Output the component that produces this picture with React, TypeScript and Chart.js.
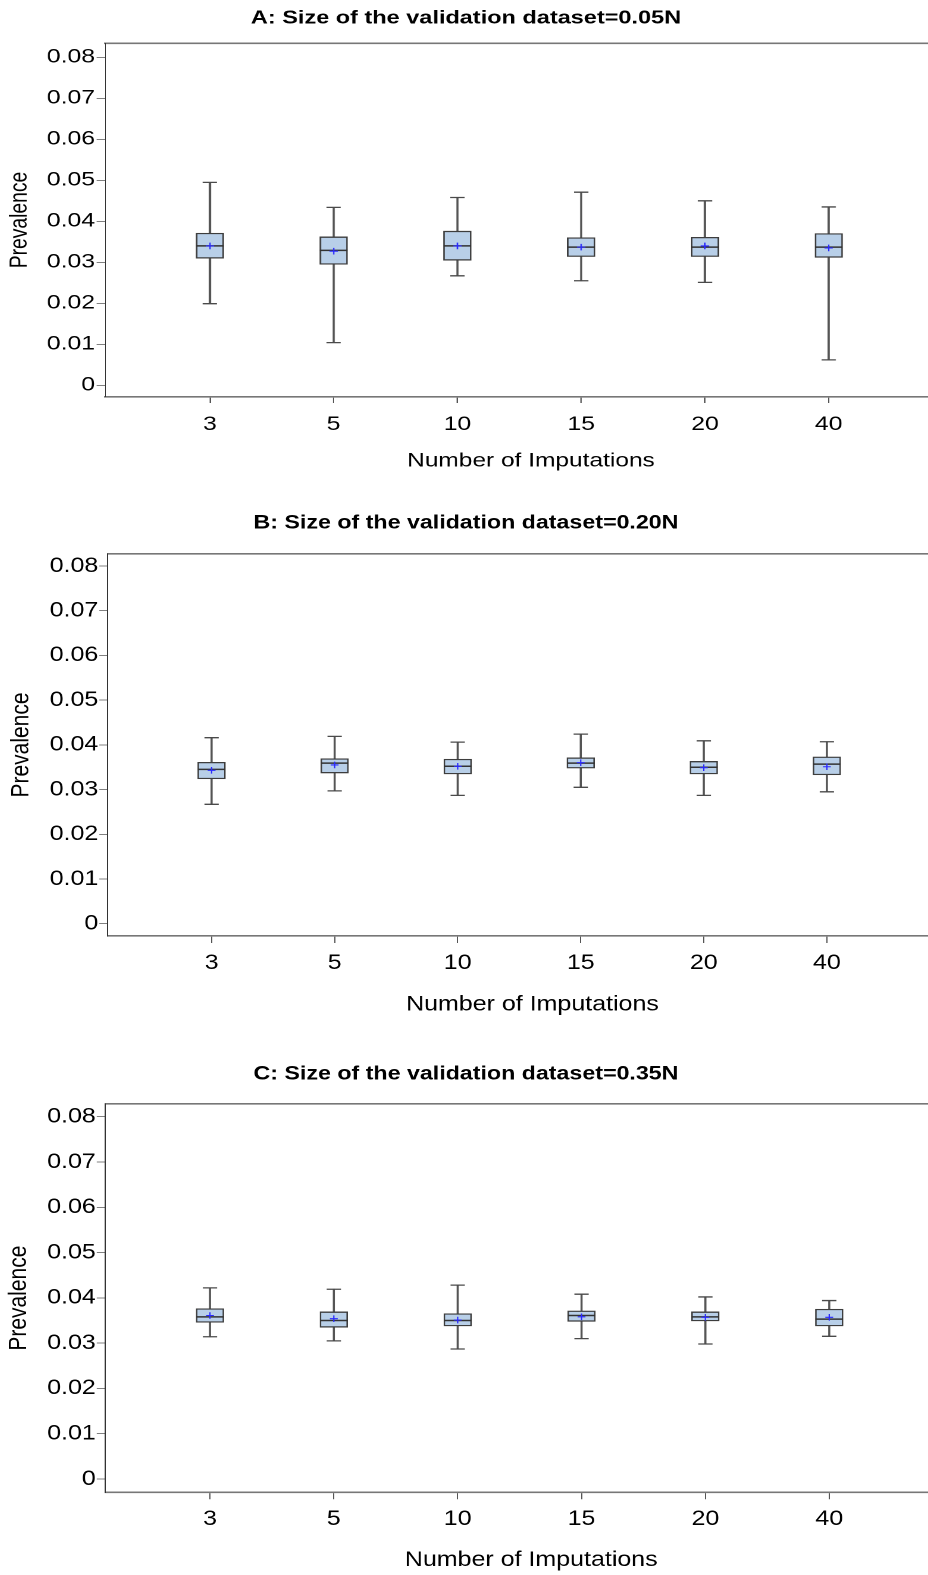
import React, { useEffect, useRef } from 'react';
import { Chart, registerables } from 'chart.js';

Chart.register(...registerables);

const FONT = "'Liberation Sans', Arial, Helvetica, sans-serif";

// ---------- data ----------
const categories = ['3', '5', '10', '15', '20', '40'];
const yTickValues = [0, 0.01, 0.02, 0.03, 0.04, 0.05, 0.06, 0.07, 0.08];
const xAxisTitle = 'Number of Imputations';
const yAxisTitle = 'Prevalence';

const titleA = 'A: Size of the validation dataset=0.05N';
const minA = [0.0199, 0.0104, 0.0267, 0.0255, 0.0251, 0.0062];
const q1A = [0.0310, 0.0295, 0.0305, 0.0314, 0.0314, 0.0312];
const medA = [0.0340, 0.0329, 0.0340, 0.0337, 0.0337, 0.0337];
const q3A = [0.0371, 0.0362, 0.0376, 0.0360, 0.0361, 0.0370];
const maxA = [0.0495, 0.0434, 0.0458, 0.0471, 0.0450, 0.0435];
const meanA = [0.0340, 0.0327, 0.0340, 0.0337, 0.0340, 0.0335];

const titleB = 'B: Size of the validation dataset=0.20N';
const minB = [0.0267, 0.0297, 0.0287, 0.0305, 0.0287, 0.0295];
const q1B = [0.0324, 0.0337, 0.0335, 0.0348, 0.0335, 0.0333];
const medB = [0.0345, 0.0359, 0.0352, 0.0359, 0.0350, 0.0357];
const q3B = [0.0361, 0.0369, 0.0368, 0.0371, 0.0363, 0.0373];
const maxB = [0.0416, 0.0419, 0.0406, 0.0424, 0.0409, 0.0407];
const meanB = [0.0343, 0.0355, 0.0352, 0.0360, 0.0349, 0.0351];

const titleC = 'C: Size of the validation dataset=0.35N';
const minC = [0.0314, 0.0305, 0.0287, 0.0310, 0.0298, 0.0315];
const q1C = [0.0346, 0.0335, 0.0338, 0.0348, 0.0349, 0.0338];
const medC = [0.0358, 0.0350, 0.0350, 0.0361, 0.0358, 0.0353];
const q3C = [0.0376, 0.0369, 0.0365, 0.0371, 0.0369, 0.0375];
const maxC = [0.0422, 0.0419, 0.0428, 0.0408, 0.0402, 0.0394];
const meanC = [0.0361, 0.0354, 0.0351, 0.0358, 0.0357, 0.0357];

// ---------- layout ----------
const OFFSET = 40; // canvas starts 40px left of the page (real px)
const BOX_LEFT = -31; // page x where the title/axis boxes begin (real px)
const CANVAS_REAL_W = 1012;
const AREA_RIGHT = 963; // real px, beyond the visible page

type Layout = {
  s: number; top: number; h: number; left: number; x0: number; step: number;
  yMin: number; yMax: number;
  titleSize: number; titlePadTop: number; titlePadBottom: number;
  tickSize: number; axisTitleSize: number;
  xAxisH: number; padBottom: number; xTickLen: number; xTickPad: number;
  yTickLen: number; yTickPad: number; yTitleX: number;
  boxW: number; capW: number;
};

const layoutA: Layout = {
  s: 1.27, top: 0, h: 480, left: 105.3, x0: 210.7, step: 124.7,
  yMin: -0.00278, yMax: 0.08341,
  titleSize: 18.5, titlePadTop: 7.2, titlePadBottom: 13.9,
  tickSize: 19.5, axisTitleSize: 19.3,
  xAxisH: 75.9, padBottom: 7.4, xTickLen: 6.3, xTickPad: 10.0,
  yTickLen: 6.8, yTickPad: 1.3, yTitleX: 19.7,
  boxW: 27.5, capW: 14.3,
};
const layoutB: Layout = {
  s: 1.19, top: 500, h: 525, left: 107.7, x0: 212.3, step: 123.9,
  yMin: -0.00275, yMax: 0.08268,
  titleSize: 19.5, titlePadTop: 11.6, titlePadBottom: 19.0,
  tickSize: 21, axisTitleSize: 21,
  xAxisH: 81.3, padBottom: 7.7, xTickLen: 7, xTickPad: 7.7,
  yTickLen: 7.06, yTickPad: 0.84, yTitleX: 21.5,
  boxW: 27.5, capW: 14.3,
};
const layoutC: Layout = {
  s: 1.19, top: 1050, h: 525, left: 105.3, x0: 210.7, step: 124.7,
  yMin: -0.00294, yMax: 0.0828,
  titleSize: 19.5, titlePadTop: 12.3, titlePadBottom: 18.3,
  tickSize: 21, axisTitleSize: 21,
  xAxisH: 80.3, padBottom: 2.4, xTickLen: 7, xTickPad: 7.1,
  yTickLen: 7.2, yTickPad: 0.84, yTitleX: 19.3,
  boxW: 27.5, capW: 14.3,
};

type Stats = { min: number[]; q1: number[]; med: number[]; q3: number[]; max: number[]; mean: number[] };

function BoxPanel({ title, stats, L }: { title: string; stats: Stats; L: Layout }) {
  const ref = useRef<HTMLCanvasElement | null>(null);
  const Wc = Math.ceil(CANVAS_REAL_W / L.s);

  useEffect(() => {
    const canvas = ref.current;
    if (!canvas) return;
    const s = L.s;
    const padLeft = (BOX_LEFT + OFFSET) / s;
    const areaRight = (AREA_RIGHT + OFFSET) / s;
    const padRight = Wc - areaRight;
    const yAxisW = (L.left - BOX_LEFT) / s;
    const axisTitleLH = L.axisTitleSize * 1.2;
    const yTitlePad = (L.yTitleX - BOX_LEFT) / s - axisTitleLH / 2;
    const xMin = 1 - (L.x0 - L.left) / L.step;
    const xMax = 1 + (AREA_RIGHT - L.x0) / L.step;
    const idx = categories.map((_, i) => i + 1);
    const pts = (arr: number[]) => arr.map((v, i) => ({ x: idx[i], y: v }));

    const chart = new Chart(canvas, {
      type: 'bar',
      data: {
        datasets: [
          {
            type: 'bar',
            data: idx.map((x, i) => ({ x, y: [stats.min[i], stats.max[i]] })) as any,
            backgroundColor: '#555555',
            borderWidth: 0,
            barThickness: 1.1,
            grouped: false,
            order: 5,
          } as any,
          {
            type: 'bar',
            data: idx.map((x, i) => ({ x, y: [stats.q1[i], stats.q3[i]] })) as any,
            backgroundColor: '#b8cfe8',
            borderColor: '#3d3d3d',
            borderWidth: 1.3,
            borderSkipped: false,
            barThickness: L.boxW / s,
            grouped: false,
            order: 4,
          } as any,
          {
            type: 'line',
            data: [...pts(stats.min), ...pts(stats.max)],
            showLine: false,
            pointStyle: 'line',
            pointRadius: L.capW / 2 / s,
            pointBorderWidth: 1.3,
            pointBorderColor: '#4a4a4a',
            order: 3,
          } as any,
          {
            type: 'line',
            data: pts(stats.med),
            showLine: false,
            pointStyle: 'line',
            pointRadius: L.boxW / 2 / s,
            pointBorderWidth: 1.5,
            pointBorderColor: '#333333',
            order: 2,
          } as any,
          {
            type: 'line',
            data: pts(stats.mean),
            showLine: false,
            pointStyle: 'cross',
            pointRadius: 3.3,
            pointBorderWidth: 1.1,
            pointBorderColor: '#2a2aff',
            order: 1,
          } as any,
        ],
      },
      options: {
        animation: false,
        responsive: false,
        devicePixelRatio: 2,
        events: [],
        layout: { padding: { left: padLeft, right: padRight, top: 0, bottom: L.padBottom } },
        plugins: {
          legend: { display: false },
          tooltip: { enabled: false },
          title: {
            display: true,
            text: title,
            color: '#000000',
            font: { family: FONT, size: L.titleSize, weight: 'bold', lineHeight: 1.2 },
            padding: { top: L.titlePadTop, bottom: L.titlePadBottom },
          },
        },
        scales: {
          x: {
            type: 'linear',
            position: 'bottom',
            min: xMin,
            max: xMax,
            offset: false,
            afterBuildTicks: (sc: any) => {
              sc.ticks = idx.map((v) => ({ value: v }));
            },
            afterFit: (sc: any) => {
              sc.height = L.xAxisH;
            },
            ticks: {
              autoSkip: false,
              maxRotation: 0,
              color: '#000000',
              padding: L.xTickPad,
              font: { family: FONT, size: L.tickSize, lineHeight: 1.2 },
              callback: (v: any) => categories[Math.round(Number(v)) - 1] ?? '',
            },
            grid: {
              display: true,
              offset: false,
              drawOnChartArea: false,
              drawTicks: true,
              tickLength: L.xTickLen,
              color: '#555555',
              lineWidth: 1,
            },
            border: { display: true, color: '#777777', width: 1.6 },
            title: {
              display: true,
              text: xAxisTitle,
              color: '#000000',
              font: { family: FONT, size: L.axisTitleSize, lineHeight: 1.2 },
              padding: { top: 0, bottom: 0 },
            },
          },
          x2: {
            type: 'linear',
            position: 'top',
            display: true,
            afterFit: (sc: any) => {
              sc.height = 0;
            },
            ticks: { display: false },
            grid: { display: false, drawTicks: false },
            border: { display: true, color: '#777777', width: 1.6 },
          },
          y: {
            type: 'linear',
            position: 'left',
            min: L.yMin,
            max: L.yMax,
            afterBuildTicks: (sc: any) => {
              sc.ticks = yTickValues.map((v) => ({ value: v }));
            },
            afterFit: (sc: any) => {
              sc.width = yAxisW;
            },
            ticks: {
              color: '#000000',
              padding: L.yTickPad,
              font: { family: FONT, size: L.tickSize, lineHeight: 1.2 },
              callback: (v: any) => (Number(v) === 0 ? '0' : Number(v).toFixed(2)),
            },
            grid: {
              display: true,
              drawOnChartArea: false,
              drawTicks: true,
              tickLength: L.yTickLen,
              color: '#808080',
              lineWidth: 1,
            },
            border: { display: true, color: '#333333', width: 1 },
            title: {
              display: true,
              text: yAxisTitle,
              color: '#000000',
              font: { family: FONT, size: L.axisTitleSize, lineHeight: 1.2 },
              padding: { top: yTitlePad, bottom: 0 },
            },
          },
        },
      } as any,
    });
    return () => chart.destroy();
  }, []);

  return (
    <div
      style={{
        position: 'absolute',
        left: 0,
        top: L.top,
        width: Wc,
        height: L.h,
        transform: `translateX(${-OFFSET}px) scaleX(${L.s})`,
        transformOrigin: '0 0',
      }}
    >
      <canvas ref={ref} width={Wc} height={L.h} style={{ display: 'block' }} />
    </div>
  );
}

export default function App() {
  const statsA: Stats = { min: minA, q1: q1A, med: medA, q3: q3A, max: maxA, mean: meanA };
  const statsB: Stats = { min: minB, q1: q1B, med: medB, q3: q3B, max: maxB, mean: meanB };
  const statsC: Stats = { min: minC, q1: q1C, med: medC, q3: q3C, max: maxC, mean: meanC };
  return (
    <div
      style={{
        position: 'absolute',
        left: 0,
        top: 0,
        width: 928,
        height: 1575,
        overflow: 'hidden',
        background: '#ffffff',
      }}
    >
      <BoxPanel title={titleA} stats={statsA} L={layoutA} />
      <BoxPanel title={titleB} stats={statsB} L={layoutB} />
      <BoxPanel title={titleC} stats={statsC} L={layoutC} />
    </div>
  );
}
